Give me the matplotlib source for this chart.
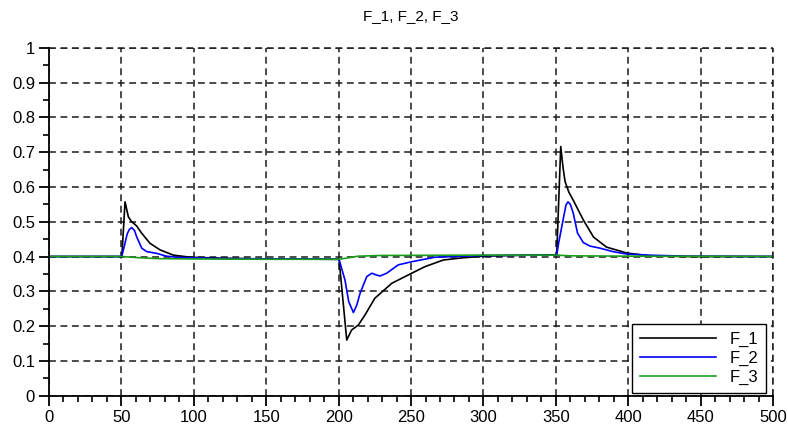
import numpy as np
import matplotlib
matplotlib.use('Agg')
import matplotlib.pyplot as plt
from matplotlib.ticker import MultipleLocator

plt.rcParams['font.family'] = ['Liberation Sans', 'DejaVu Sans']

# F_1 (black)
x_f1 = [0, 50, 50.3, 52.5, 54.8, 57.1, 60.5, 64, 69.7, 76.7, 85.8, 97.4, 120, 150, 200.3,
        205.6, 209, 213.6, 218.2, 225, 236.7, 250.5, 259.7, 272.3, 285, 300, 330, 350.6,
        353.4, 355, 356.4, 359, 362, 369, 376, 385, 399, 415, 440, 500]
y_f1 = [0.4, 0.4, 0.4, 0.557, 0.514, 0.5, 0.488, 0.467, 0.438, 0.419, 0.404, 0.398, 0.395, 0.393, 0.392,
        0.16, 0.189, 0.203, 0.232, 0.28, 0.323, 0.352, 0.371, 0.39, 0.396, 0.401, 0.404, 0.405,
        0.716, 0.655, 0.615, 0.585, 0.562, 0.505, 0.456, 0.427, 0.41, 0.402, 0.4, 0.4]

# F_2 (blue)
x_f2 = [0, 50.2, 52, 54, 55.5, 57.1, 59, 60.5, 64, 67.5, 74.4, 81, 90.5, 120, 150, 200.3,
        204.4, 207, 210.2, 212.5, 214.8, 219.4, 222.9, 226, 228.6, 233.2, 241.2, 250.5, 266.6,
        300, 350.6, 352, 355, 357, 358.4, 360, 362, 365, 369, 373.6, 380.5, 389.5, 399, 413, 440, 500]
y_f2 = [0.4, 0.4, 0.43, 0.465, 0.478, 0.483, 0.475, 0.457, 0.424, 0.414, 0.409, 0.401, 0.397, 0.394, 0.393, 0.392,
        0.332, 0.27, 0.239, 0.26, 0.294, 0.342, 0.352, 0.347, 0.344, 0.352, 0.376, 0.385, 0.398,
        0.403, 0.404, 0.44, 0.505, 0.548, 0.557, 0.55, 0.525, 0.467, 0.44, 0.43, 0.424, 0.414, 0.407, 0.404, 0.401, 0.4]

# F_3 (green)
x_f3 = [0, 50, 60, 75, 100, 150, 200, 205, 213.6, 230, 300, 350, 360, 400, 500]
y_f3 = [0.4, 0.4, 0.397, 0.394, 0.393, 0.392, 0.392, 0.395, 0.401, 0.403, 0.404, 0.404, 0.402, 0.401, 0.4]

labels = ['F_1', 'F_2', 'F_3']
colors = ['black', '#0000ff', '#1a9e1a']

fig = plt.figure(figsize=(7.88, 4.29), dpi=100)
ax = fig.add_axes([0.0622, 0.0776, 0.9188, 0.8112])

ax.plot(x_f1, y_f1, color=colors[0], lw=1.2, label=labels[0])
ax.plot(x_f2, y_f2, color=colors[1], lw=1.2, label=labels[1])
ax.plot(x_f3, y_f3, color=colors[2], lw=1.2, label=labels[2])

ax.set_xlim(0, 500)
ax.set_ylim(0, 1)
ax.xaxis.set_major_locator(MultipleLocator(50))
ax.xaxis.set_minor_locator(MultipleLocator(10))
ax.yaxis.set_major_locator(MultipleLocator(0.1))
ax.yaxis.set_minor_locator(MultipleLocator(0.05))
ax.set_yticklabels(['0' if abs(v) < 1e-9 else ('1' if abs(v - 1) < 1e-9 else '%g' % v)
                    for v in ax.get_yticks()])

dash = (0, (4.5, 3))
ax.grid(True, which='major', color='#1a1a1a', linestyle=dash, lw=1.1)
ax.spines['top'].set_visible(False)
ax.spines['right'].set_visible(False)
ax.spines['left'].set_linewidth(1.3)
ax.spines['bottom'].set_linewidth(1.3)
ax.tick_params(which='major', direction='out', length=7, width=1.3, labelsize=12, pad=3)
ax.tick_params(which='minor', direction='out', length=4, width=1.2)

# grid lines at the outer limits
ax.axvline(500, color='#1a1a1a', linestyle=dash, lw=1.1, clip_on=False)
ax.axhline(1, color='#1a1a1a', linestyle=dash, lw=1.1, clip_on=False)

ax.set_title('F_1, F_2, F_3', fontsize=11, pad=20)

leg = ax.legend(loc='lower right', bbox_to_anchor=(0.990, 0.008), borderaxespad=0,
                fancybox=False, framealpha=1, edgecolor='black', fontsize=12,
                handlelength=4.6, labelspacing=0.25, borderpad=0.45, handletextpad=0.8)
leg.get_frame().set_linewidth(1.0)
leg._legend_box.align = 'left'

fig.savefig('out.png', dpi=100)
